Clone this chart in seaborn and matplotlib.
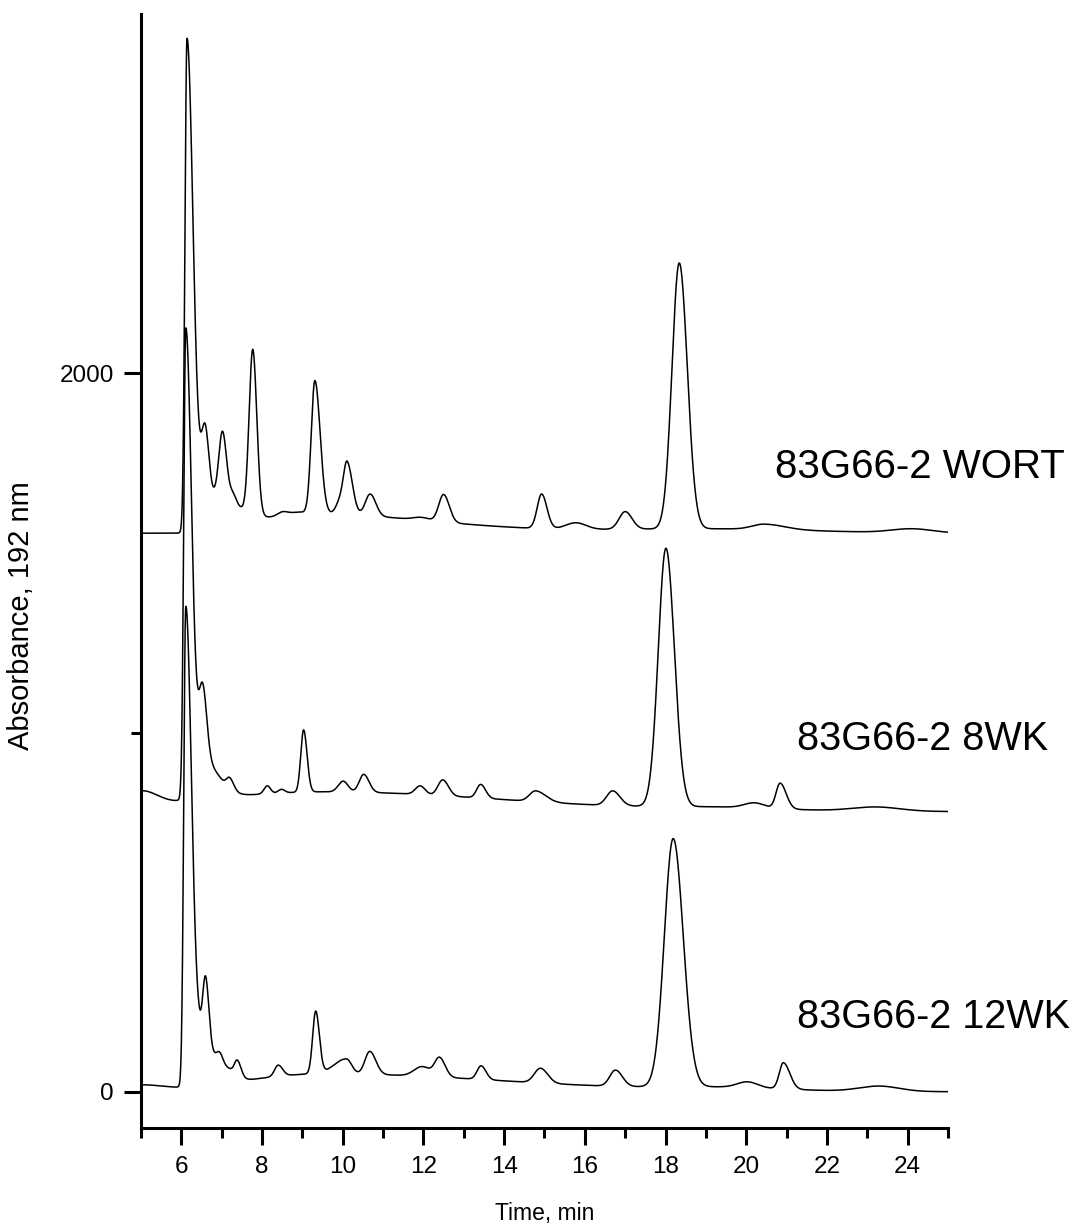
import numpy as np
import pandas as pd
import matplotlib
matplotlib.use("Agg")
import matplotlib.pyplot as plt
import seaborn as sns

# Retention time grid (min)
time_min = np.arange(5.0, 25.0001, 0.005)

# Peak tables: retention time (min), height (absorbance units),
# left / right half-widths (min, sigma of each side)
wort_base = 1555
wort_rt = [6.14, 6.60, 6.59, 7.02, 7.28, 7.77, 9.00, 8.50, 9.31, 9.93, 10.11, 10.68,
           11.95, 12.50, 14.93, 15.78, 17.00, 18.34, 19.00, 20.45, 24.10]
wort_height = [1370, 110, 180, 185, 25, 458, 55, 9, 369, 34, 142, 61,
               8, 77, 96, 18, 49, 740, 12, 15, 11]
wort_wl = [0.05, 0.20, 0.09, 0.09, 0.08, 0.09, 0.60, 0.12, 0.09, 0.10, 0.09, 0.12,
           0.20, 0.12, 0.11, 0.25, 0.15, 0.18, 2.50, 0.30, 0.50]
wort_wr = [0.15, 0.90, 0.09, 0.10, 0.08, 0.10, 3.20, 0.12, 0.13, 0.10, 0.13, 0.14,
           0.20, 0.14, 0.13, 0.25, 0.17, 0.20, 2.50, 0.50, 0.50]

wk8_base = 780
wk8_rt = [5.00, 9.50, 6.11, 6.50, 6.53, 7.20, 8.13, 8.48, 9.03, 10.01, 10.52,
          11.92, 12.48, 13.42, 14.78, 16.69, 18.01, 19.50, 20.20, 20.84, 23.21]
wk8_height = [40, 55, 1300, 110, 200, 30, 22, 10, 173, 30, 50,
              24, 44, 38, 30, 41, 719, 8, 14, 71, 12]
wk8_wl = [0.40, 3.00, 0.05, 0.20, 0.09, 0.08, 0.08, 0.08, 0.07, 0.12, 0.11,
          0.12, 0.12, 0.10, 0.15, 0.15, 0.19, 1.50, 0.25, 0.10, 0.60]
wk8_wr = [0.40, 4.50, 0.14, 0.40, 0.10, 0.10, 0.08, 0.08, 0.085, 0.12, 0.13,
          0.12, 0.14, 0.12, 0.25, 0.18, 0.21, 1.50, 0.25, 0.15, 0.60]

wk12_base = 0
wk12_rt = [5.00, 9.50, 6.11, 6.45, 6.60, 6.95, 7.20, 7.39, 8.40, 9.33, 10.09, 10.67,
           11.97, 12.40, 13.43, 14.90, 16.76, 18.19, 19.50, 20.03, 20.92, 23.29]
wk12_height = [15, 50, 1328, 130, 183, 30, 25, 40, 31, 173, 42, 64,
               27, 53, 38, 41, 45, 691, 9, 16, 73, 15]
wk12_wl = [0.50, 2.00, 0.05, 0.15, 0.07, 0.08, 0.20, 0.07, 0.09, 0.075, 0.30, 0.12,
           0.20, 0.12, 0.10, 0.15, 0.14, 0.22, 1.50, 0.25, 0.10, 0.50]
wk12_wr = [0.50, 4.50, 0.14, 0.35, 0.08, 0.08, 0.20, 0.09, 0.11, 0.09, 0.13, 0.15,
           0.20, 0.14, 0.12, 0.18, 0.17, 0.25, 1.50, 0.25, 0.16, 0.50]

sample_names = ["83G66-2 WORT", "83G66-2 8WK", "83G66-2 12WK"]


def trace(t, rt, height, wl, wr, base):
    """Sum of asymmetric Gaussian peaks on a constant baseline."""
    y = np.full_like(t, float(base))
    for c, h, sl, sr in zip(rt, height, wl, wr):
        s = np.where(t < c, sl, sr)
        y += h * np.exp(-((t - c) ** 2) / (2 * s ** 2))
    return y


tables = [
    (wort_rt, wort_height, wort_wl, wort_wr, wort_base),
    (wk8_rt, wk8_height, wk8_wl, wk8_wr, wk8_base),
    (wk12_rt, wk12_height, wk12_wl, wk12_wr, wk12_base),
]
frames = []
for name, (rt, h, wl, wr, base) in zip(sample_names, tables):
    frames.append(pd.DataFrame({"time": time_min,
                                "absorbance": trace(time_min, rt, h, wl, wr, base),
                                "sample": name}))
df = pd.concat(frames, ignore_index=True)

sns.set_style("ticks")
plt.rcParams["font.family"] = ["Liberation Sans", "DejaVu Sans"]

fig = plt.figure(figsize=(10.87, 12.32), dpi=100)
ax = fig.add_axes([0.1297, 0.0847, 0.7424, 0.9038])

sns.lineplot(data=df, x="time", y="absorbance", hue="sample",
             palette={n: "black" for n in sample_names}, legend=False,
             estimator=None, linewidth=1.1, ax=ax)

ax.set_xlim(5, 25)
ax.set_ylim(-100, 3000)
ax.set_xticks(np.arange(6, 25, 2))
ax.set_xticks(np.arange(5, 26, 2), minor=True)
ax.set_yticks([0, 2000])
ax.set_yticks([1000], minor=True)

for side in ("top", "right"):
    ax.spines[side].set_visible(False)
for side in ("left", "bottom"):
    ax.spines[side].set_linewidth(2.2)
    ax.spines[side].set_color("black")

ax.tick_params(which="major", length=12.5, width=2.2, color="black",
               labelsize=17.5, labelcolor="black")
ax.tick_params(axis="x", which="major", pad=8)
ax.tick_params(axis="y", which="major", pad=7)
ax.tick_params(which="minor", length=7, width=2.2, color="black")

ax.set_xlabel("Time, min", fontsize=16.5, color="black")
ax.set_ylabel("Absorbance, 192 nm", fontsize=21, color="black")
ax.xaxis.set_label_coords(0.5, -0.067)
ax.yaxis.set_label_coords(-0.131, 0.46)

label_pos = [(20.71, 1708), (21.26, 951), (21.26, 177)]
label_size = [29, 28.5, 28.5]
for name, (lx, ly), fs in zip(sample_names, label_pos, label_size):
    ax.text(lx, ly, name, fontsize=fs, color="black", va="baseline",
            ha="left", clip_on=False)

fig.savefig("out.png", dpi=100, facecolor="white")
